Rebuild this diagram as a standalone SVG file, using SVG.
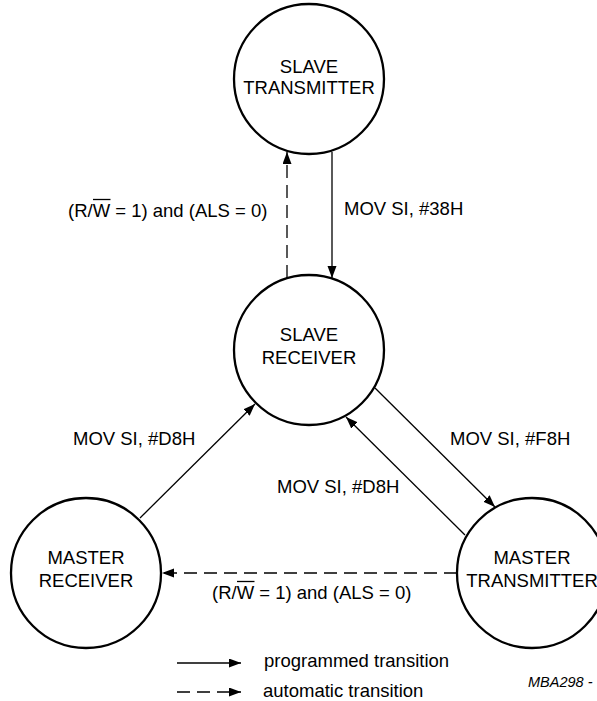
<svg xmlns="http://www.w3.org/2000/svg" width="597" height="701" viewBox="0 0 597 701">
<style>
.state{fill:#fff;stroke:#000;stroke-width:2.3}
.lbl{font-family:"Liberation Sans",Arial,sans-serif;font-size:18.5px;fill:#000}
.mid{text-anchor:middle}
.solid{stroke:#000;stroke-width:1.3;fill:none}
.dash{stroke:#000;stroke-width:1.3;fill:none;stroke-dasharray:13 7}
.ov{stroke:#000;stroke-width:1.3}
</style>
<defs>
<marker id="ah" markerUnits="userSpaceOnUse" markerWidth="12" markerHeight="10" refX="12" refY="4.5" orient="auto">
<path d="M0,0 L12,4.5 L0,9 z" fill="#000"/>
</marker>
</defs>
<rect width="597" height="701" fill="#fff"/>
<g id="connectors">
<line class="solid" x1="332" y1="152" x2="332" y2="278" marker-end="url(#ah)"/>
<line class="dash" x1="287" y1="278" x2="287" y2="152" marker-end="url(#ah)"/>
<line class="solid" x1="375" y1="388" x2="495" y2="507" marker-end="url(#ah)"/>
<line class="solid" x1="465" y1="535" x2="346" y2="417" marker-end="url(#ah)"/>
<line class="solid" x1="140" y1="518" x2="255" y2="404" marker-end="url(#ah)"/>
<line class="dash" x1="457" y1="573" x2="162" y2="573" marker-end="url(#ah)"/>
</g>
<g id="slave-transmitter">
<circle class="state" cx="309" cy="79" r="75"/>
<text class="lbl mid" x="309" y="73">SLAVE</text>
<text class="lbl mid" x="309" y="94">TRANSMITTER</text>
</g>
<g id="slave-receiver">
<circle class="state" cx="309" cy="350" r="75"/>
<text class="lbl mid" x="309" y="341">SLAVE</text>
<text class="lbl mid" x="309" y="364">RECEIVER</text>
</g>
<g id="master-receiver">
<circle class="state" cx="86" cy="573" r="75"/>
<text class="lbl mid" x="86" y="564">MASTER</text>
<text class="lbl mid" x="86" y="587">RECEIVER</text>
</g>
<g id="master-transmitter">
<circle class="state" cx="532" cy="573" r="75"/>
<text class="lbl mid" x="532" y="564">MASTER</text>
<text class="lbl mid" x="532" y="587">TRANSMITTER</text>
</g>
<g id="labels">
<text class="lbl" x="68" y="217">(R/W = 1) and (ALS = 0)</text>
<line class="ov" x1="93" y1="199.5" x2="110.5" y2="199.5"/>
<text class="lbl" x="344" y="215">MOV SI, #38H</text>
<text class="lbl" x="73" y="445">MOV SI, #D8H</text>
<text class="lbl" x="450" y="445">MOV SI, #F8H</text>
<text class="lbl" x="277" y="493">MOV SI, #D8H</text>
<text class="lbl" x="212" y="599">(R/W = 1) and (ALS = 0)</text>
<line class="ov" x1="237" y1="581.5" x2="254.5" y2="581.5"/>
</g>
<g id="legend">
<line class="solid" x1="177" y1="663" x2="241" y2="663" marker-end="url(#ah)"/>
<line class="dash" x1="177" y1="692" x2="241" y2="692" marker-end="url(#ah)"/>
<text class="lbl" x="264" y="667">programmed transition</text>
<text class="lbl" x="263" y="697">automatic transition</text>
<text x="528" y="687" style="font-family:'Liberation Sans',Arial,sans-serif;font-size:14.5px;font-style:italic">MBA298 -</text>
</g>
</svg>
